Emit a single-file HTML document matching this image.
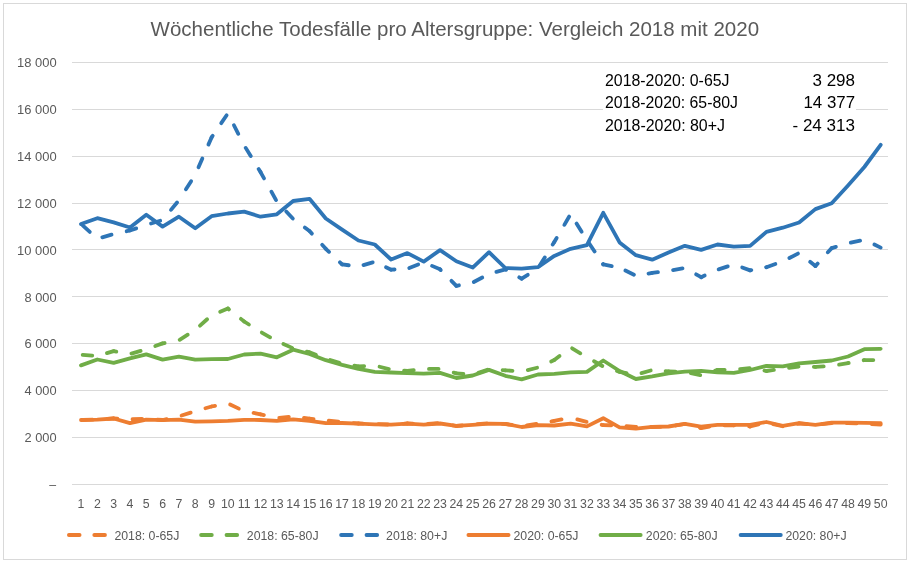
<!DOCTYPE html><html><head><meta charset="utf-8"><style>html,body{margin:0;padding:0;background:#fff;}svg{display:block;will-change:transform;}text{font-family:"Liberation Sans",sans-serif;}</style></head><body>
<svg width="909" height="562" viewBox="0 0 909 562">
<rect x="0" y="0" width="909" height="562" fill="#fff"/>
<rect x="3.5" y="3.5" width="903" height="556" fill="none" stroke="#D9D9D9" stroke-width="1"/>
<text x="454.8" y="35.9" text-anchor="middle" font-size="20" fill="#595959" textLength="608.5" lengthAdjust="spacingAndGlyphs">Wöchentliche Todesfälle pro Altersgruppe: Vergleich 2018 mit 2020</text>
<line x1="72" y1="484.5" x2="888" y2="484.5" stroke="#D9D9D9" stroke-width="1"/>
<line x1="72" y1="437.5" x2="888" y2="437.5" stroke="#D9D9D9" stroke-width="1"/>
<line x1="72" y1="390.5" x2="888" y2="390.5" stroke="#D9D9D9" stroke-width="1"/>
<line x1="72" y1="343.5" x2="888" y2="343.5" stroke="#D9D9D9" stroke-width="1"/>
<line x1="72" y1="296.5" x2="888" y2="296.5" stroke="#D9D9D9" stroke-width="1"/>
<line x1="72" y1="249.5" x2="888" y2="249.5" stroke="#D9D9D9" stroke-width="1"/>
<line x1="72" y1="203.5" x2="888" y2="203.5" stroke="#D9D9D9" stroke-width="1"/>
<line x1="72" y1="156.5" x2="888" y2="156.5" stroke="#D9D9D9" stroke-width="1"/>
<line x1="72" y1="109.5" x2="888" y2="109.5" stroke="#D9D9D9" stroke-width="1"/>
<line x1="72" y1="62.5" x2="888" y2="62.5" stroke="#D9D9D9" stroke-width="1"/>
<text x="56" y="489.1" text-anchor="end" font-size="12.3" fill="#595959">–</text>
<text x="24.5" y="442.2" font-size="12.3" fill="#595959" textLength="32.1" lengthAdjust="spacingAndGlyphs">2 000</text>
<text x="24.5" y="395.3" font-size="12.3" fill="#595959" textLength="32.1" lengthAdjust="spacingAndGlyphs">4 000</text>
<text x="24.5" y="348.4" font-size="12.3" fill="#595959" textLength="32.1" lengthAdjust="spacingAndGlyphs">6 000</text>
<text x="24.5" y="301.5" font-size="12.3" fill="#595959" textLength="32.1" lengthAdjust="spacingAndGlyphs">8 000</text>
<text x="17.0" y="254.7" font-size="12.3" fill="#595959" textLength="39.6" lengthAdjust="spacingAndGlyphs">10 000</text>
<text x="17.0" y="207.8" font-size="12.3" fill="#595959" textLength="39.6" lengthAdjust="spacingAndGlyphs">12 000</text>
<text x="17.0" y="160.9" font-size="12.3" fill="#595959" textLength="39.6" lengthAdjust="spacingAndGlyphs">14 000</text>
<text x="17.0" y="114.0" font-size="12.3" fill="#595959" textLength="39.6" lengthAdjust="spacingAndGlyphs">16 000</text>
<text x="17.0" y="67.1" font-size="12.3" fill="#595959" textLength="39.6" lengthAdjust="spacingAndGlyphs">18 000</text>
<text x="81.00" y="507.8" text-anchor="middle" font-size="12.3" fill="#595959">1</text>
<text x="97.32" y="507.8" text-anchor="middle" font-size="12.3" fill="#595959">2</text>
<text x="113.64" y="507.8" text-anchor="middle" font-size="12.3" fill="#595959">3</text>
<text x="129.96" y="507.8" text-anchor="middle" font-size="12.3" fill="#595959">4</text>
<text x="146.28" y="507.8" text-anchor="middle" font-size="12.3" fill="#595959">5</text>
<text x="162.60" y="507.8" text-anchor="middle" font-size="12.3" fill="#595959">6</text>
<text x="178.92" y="507.8" text-anchor="middle" font-size="12.3" fill="#595959">7</text>
<text x="195.24" y="507.8" text-anchor="middle" font-size="12.3" fill="#595959">8</text>
<text x="211.56" y="507.8" text-anchor="middle" font-size="12.3" fill="#595959">9</text>
<text x="227.88" y="507.8" text-anchor="middle" font-size="12.3" fill="#595959">10</text>
<text x="244.20" y="507.8" text-anchor="middle" font-size="12.3" fill="#595959">11</text>
<text x="260.52" y="507.8" text-anchor="middle" font-size="12.3" fill="#595959">12</text>
<text x="276.84" y="507.8" text-anchor="middle" font-size="12.3" fill="#595959">13</text>
<text x="293.16" y="507.8" text-anchor="middle" font-size="12.3" fill="#595959">14</text>
<text x="309.48" y="507.8" text-anchor="middle" font-size="12.3" fill="#595959">15</text>
<text x="325.80" y="507.8" text-anchor="middle" font-size="12.3" fill="#595959">16</text>
<text x="342.12" y="507.8" text-anchor="middle" font-size="12.3" fill="#595959">17</text>
<text x="358.44" y="507.8" text-anchor="middle" font-size="12.3" fill="#595959">18</text>
<text x="374.76" y="507.8" text-anchor="middle" font-size="12.3" fill="#595959">19</text>
<text x="391.08" y="507.8" text-anchor="middle" font-size="12.3" fill="#595959">20</text>
<text x="407.40" y="507.8" text-anchor="middle" font-size="12.3" fill="#595959">21</text>
<text x="423.72" y="507.8" text-anchor="middle" font-size="12.3" fill="#595959">22</text>
<text x="440.04" y="507.8" text-anchor="middle" font-size="12.3" fill="#595959">23</text>
<text x="456.36" y="507.8" text-anchor="middle" font-size="12.3" fill="#595959">24</text>
<text x="472.68" y="507.8" text-anchor="middle" font-size="12.3" fill="#595959">25</text>
<text x="489.00" y="507.8" text-anchor="middle" font-size="12.3" fill="#595959">26</text>
<text x="505.32" y="507.8" text-anchor="middle" font-size="12.3" fill="#595959">27</text>
<text x="521.64" y="507.8" text-anchor="middle" font-size="12.3" fill="#595959">28</text>
<text x="537.96" y="507.8" text-anchor="middle" font-size="12.3" fill="#595959">29</text>
<text x="554.28" y="507.8" text-anchor="middle" font-size="12.3" fill="#595959">30</text>
<text x="570.60" y="507.8" text-anchor="middle" font-size="12.3" fill="#595959">31</text>
<text x="586.92" y="507.8" text-anchor="middle" font-size="12.3" fill="#595959">32</text>
<text x="603.24" y="507.8" text-anchor="middle" font-size="12.3" fill="#595959">33</text>
<text x="619.56" y="507.8" text-anchor="middle" font-size="12.3" fill="#595959">34</text>
<text x="635.88" y="507.8" text-anchor="middle" font-size="12.3" fill="#595959">35</text>
<text x="652.20" y="507.8" text-anchor="middle" font-size="12.3" fill="#595959">36</text>
<text x="668.52" y="507.8" text-anchor="middle" font-size="12.3" fill="#595959">37</text>
<text x="684.84" y="507.8" text-anchor="middle" font-size="12.3" fill="#595959">38</text>
<text x="701.16" y="507.8" text-anchor="middle" font-size="12.3" fill="#595959">39</text>
<text x="717.48" y="507.8" text-anchor="middle" font-size="12.3" fill="#595959">40</text>
<text x="733.80" y="507.8" text-anchor="middle" font-size="12.3" fill="#595959">41</text>
<text x="750.12" y="507.8" text-anchor="middle" font-size="12.3" fill="#595959">42</text>
<text x="766.44" y="507.8" text-anchor="middle" font-size="12.3" fill="#595959">43</text>
<text x="782.76" y="507.8" text-anchor="middle" font-size="12.3" fill="#595959">44</text>
<text x="799.08" y="507.8" text-anchor="middle" font-size="12.3" fill="#595959">45</text>
<text x="815.40" y="507.8" text-anchor="middle" font-size="12.3" fill="#595959">46</text>
<text x="831.72" y="507.8" text-anchor="middle" font-size="12.3" fill="#595959">47</text>
<text x="848.04" y="507.8" text-anchor="middle" font-size="12.3" fill="#595959">48</text>
<text x="864.36" y="507.8" text-anchor="middle" font-size="12.3" fill="#595959">49</text>
<text x="880.68" y="507.8" text-anchor="middle" font-size="12.3" fill="#595959">50</text>
<g stroke="#ED7D31" stroke-width="3.8" stroke-linecap="round" stroke-dasharray="9.6 15.16"><line x1="81.00" y1="420.00" x2="97.32" y2="419.60" stroke-dashoffset="22.69"/><line x1="97.32" y1="419.60" x2="113.64" y2="418.50" stroke-dashoffset="14.26"/><line x1="113.64" y1="418.50" x2="129.96" y2="419.30" stroke-dashoffset="5.86"/><line x1="129.96" y1="419.30" x2="146.28" y2="418.90" stroke-dashoffset="22.20"/><line x1="146.28" y1="418.90" x2="162.60" y2="420.00" stroke-dashoffset="13.76"/><line x1="162.60" y1="420.00" x2="178.92" y2="416.40" stroke-dashoffset="5.36"/><line x1="178.92" y1="416.40" x2="195.24" y2="411.10" stroke-dashoffset="21.99"/><line x1="195.24" y1="411.10" x2="211.56" y2="406.50" stroke-dashoffset="14.18"/><line x1="211.56" y1="406.50" x2="227.88" y2="403.50" stroke-dashoffset="6.03"/><line x1="227.88" y1="403.50" x2="244.20" y2="411.10" stroke-dashoffset="22.27"/><line x1="244.20" y1="411.10" x2="260.52" y2="414.30" stroke-dashoffset="15.20"/><line x1="260.52" y1="414.30" x2="276.84" y2="418.20" stroke-dashoffset="6.14"/><line x1="276.84" y1="418.20" x2="293.16" y2="416.50" stroke-dashoffset="22.31"/><line x1="293.16" y1="416.50" x2="309.48" y2="418.70" stroke-dashoffset="13.87"/><line x1="309.48" y1="418.70" x2="325.80" y2="420.40" stroke-dashoffset="5.50"/><line x1="325.80" y1="420.40" x2="342.12" y2="422.00" stroke-dashoffset="21.82"/><line x1="342.12" y1="422.00" x2="358.44" y2="423.50" stroke-dashoffset="13.37"/><line x1="358.44" y1="423.50" x2="374.76" y2="424.00" stroke-dashoffset="4.91"/><line x1="374.76" y1="424.00" x2="391.08" y2="424.60" stroke-dashoffset="21.16"/><line x1="391.08" y1="424.60" x2="407.40" y2="423.50" stroke-dashoffset="12.64"/><line x1="407.40" y1="423.50" x2="423.72" y2="424.30" stroke-dashoffset="4.15"/><line x1="423.72" y1="424.30" x2="440.04" y2="423.00" stroke-dashoffset="20.41"/><line x1="440.04" y1="423.00" x2="456.36" y2="426.00" stroke-dashoffset="11.93"/><line x1="456.36" y1="426.00" x2="472.68" y2="424.60" stroke-dashoffset="3.68"/><line x1="472.68" y1="424.60" x2="489.00" y2="423.20" stroke-dashoffset="19.97"/><line x1="489.00" y1="423.20" x2="505.32" y2="424.00" stroke-dashoffset="11.51"/><line x1="505.32" y1="424.00" x2="521.64" y2="426.30" stroke-dashoffset="3.00"/><line x1="521.64" y1="426.30" x2="537.96" y2="423.70" stroke-dashoffset="19.40"/><line x1="537.96" y1="423.70" x2="554.28" y2="420.90" stroke-dashoffset="11.08"/><line x1="554.28" y1="420.90" x2="570.60" y2="417.60" stroke-dashoffset="2.18"/><line x1="570.60" y1="417.60" x2="586.92" y2="422.00" stroke-dashoffset="17.82"/><line x1="586.92" y1="422.00" x2="603.24" y2="425.10" stroke-dashoffset="9.78"/><line x1="603.24" y1="425.10" x2="619.56" y2="425.40" stroke-dashoffset="1.56"/><line x1="619.56" y1="425.40" x2="635.88" y2="427.00" stroke-dashoffset="17.88"/><line x1="635.88" y1="427.00" x2="652.20" y2="427.00" stroke-dashoffset="9.52"/><line x1="652.20" y1="427.00" x2="668.52" y2="426.70" stroke-dashoffset="1.08"/><line x1="668.52" y1="426.70" x2="684.84" y2="424.00" stroke-dashoffset="17.40"/><line x1="684.84" y1="424.00" x2="701.16" y2="428.10" stroke-dashoffset="9.18"/><line x1="701.16" y1="428.10" x2="717.48" y2="425.30" stroke-dashoffset="1.25"/><line x1="717.48" y1="425.30" x2="733.80" y2="425.30" stroke-dashoffset="17.81"/><line x1="733.80" y1="425.30" x2="750.12" y2="426.50" stroke-dashoffset="9.37"/><line x1="750.12" y1="426.50" x2="766.44" y2="422.50" stroke-dashoffset="0.97"/><line x1="766.44" y1="422.50" x2="782.76" y2="426.30" stroke-dashoffset="17.78"/><line x1="782.76" y1="426.30" x2="799.08" y2="423.50" stroke-dashoffset="9.77"/><line x1="799.08" y1="423.50" x2="815.40" y2="424.90" stroke-dashoffset="1.57"/><line x1="815.40" y1="424.90" x2="831.72" y2="423.20" stroke-dashoffset="17.95"/><line x1="831.72" y1="423.20" x2="848.04" y2="423.20" stroke-dashoffset="9.60"/><line x1="848.04" y1="423.20" x2="864.36" y2="423.50" stroke-dashoffset="1.16"/><line x1="864.36" y1="423.50" x2="880.68" y2="424.60" stroke-dashoffset="17.48"/></g>
<g stroke="#70AD47" stroke-width="3.8" stroke-linecap="round" stroke-dasharray="9.6 15.16"><line x1="81.00" y1="354.80" x2="97.32" y2="356.00" stroke-dashoffset="23.09"/><line x1="97.32" y1="356.00" x2="113.64" y2="351.10" stroke-dashoffset="14.70"/><line x1="113.64" y1="351.10" x2="129.96" y2="354.00" stroke-dashoffset="6.86"/><line x1="129.96" y1="354.00" x2="146.28" y2="349.30" stroke-dashoffset="23.25"/><line x1="146.28" y1="349.30" x2="162.60" y2="343.40" stroke-dashoffset="15.20"/><line x1="162.60" y1="343.40" x2="178.92" y2="340.30" stroke-dashoffset="7.52"/><line x1="178.92" y1="340.30" x2="195.24" y2="330.00" stroke-dashoffset="23.92"/><line x1="195.24" y1="330.00" x2="211.56" y2="315.20" stroke-dashoffset="18.32"/><line x1="211.56" y1="315.20" x2="227.88" y2="308.50" stroke-dashoffset="15.46"/><line x1="227.88" y1="308.50" x2="244.20" y2="321.50" stroke-dashoffset="8.12"/><line x1="244.20" y1="321.50" x2="260.52" y2="331.80" stroke-dashoffset="3.99"/><line x1="260.52" y1="331.80" x2="276.84" y2="341.20" stroke-dashoffset="23.28"/><line x1="276.84" y1="341.20" x2="293.16" y2="348.30" stroke-dashoffset="17.64"/><line x1="293.16" y1="348.30" x2="309.48" y2="352.30" stroke-dashoffset="10.68"/><line x1="309.48" y1="352.30" x2="325.80" y2="358.50" stroke-dashoffset="2.68"/><line x1="325.80" y1="358.50" x2="342.12" y2="363.80" stroke-dashoffset="20.09"/><line x1="342.12" y1="363.80" x2="358.44" y2="366.40" stroke-dashoffset="12.43"/><line x1="358.44" y1="366.40" x2="374.76" y2="365.50" stroke-dashoffset="3.87"/><line x1="374.76" y1="365.50" x2="391.08" y2="369.70" stroke-dashoffset="19.82"/><line x1="391.08" y1="369.70" x2="407.40" y2="370.90" stroke-dashoffset="11.72"/><line x1="407.40" y1="370.90" x2="423.72" y2="368.90" stroke-dashoffset="3.21"/><line x1="423.72" y1="368.90" x2="440.04" y2="368.90" stroke-dashoffset="19.51"/><line x1="440.04" y1="368.90" x2="456.36" y2="373.30" stroke-dashoffset="10.64"/><line x1="456.36" y1="373.30" x2="472.68" y2="374.80" stroke-dashoffset="2.55"/><line x1="472.68" y1="374.80" x2="489.00" y2="369.20" stroke-dashoffset="18.79"/><line x1="489.00" y1="369.20" x2="505.32" y2="370.30" stroke-dashoffset="11.13"/><line x1="505.32" y1="370.30" x2="521.64" y2="371.60" stroke-dashoffset="2.43"/><line x1="521.64" y1="371.60" x2="537.96" y2="367.50" stroke-dashoffset="18.43"/><line x1="537.96" y1="367.50" x2="554.28" y2="360.00" stroke-dashoffset="10.23"/><line x1="554.28" y1="360.00" x2="570.60" y2="347.40" stroke-dashoffset="2.97"/><line x1="570.60" y1="347.40" x2="586.92" y2="357.20" stroke-dashoffset="22.98"/><line x1="586.92" y1="357.20" x2="603.24" y2="366.50" stroke-dashoffset="16.60"/><line x1="603.24" y1="366.50" x2="619.56" y2="371.90" stroke-dashoffset="10.30"/><line x1="619.56" y1="371.90" x2="635.88" y2="374.70" stroke-dashoffset="2.49"/><line x1="635.88" y1="374.70" x2="652.20" y2="370.10" stroke-dashoffset="18.94"/><line x1="652.20" y1="370.10" x2="668.52" y2="371.40" stroke-dashoffset="11.32"/><line x1="668.52" y1="371.40" x2="684.84" y2="372.00" stroke-dashoffset="2.71"/><line x1="684.84" y1="372.00" x2="701.16" y2="375.30" stroke-dashoffset="18.66"/><line x1="701.16" y1="375.30" x2="717.48" y2="369.90" stroke-dashoffset="10.33"/><line x1="717.48" y1="369.90" x2="733.80" y2="369.70" stroke-dashoffset="2.43"/><line x1="733.80" y1="369.70" x2="750.12" y2="368.00" stroke-dashoffset="18.42"/><line x1="750.12" y1="368.00" x2="766.44" y2="371.00" stroke-dashoffset="10.20"/><line x1="766.44" y1="371.00" x2="782.76" y2="368.60" stroke-dashoffset="2.05"/><line x1="782.76" y1="368.60" x2="799.08" y2="366.50" stroke-dashoffset="18.47"/><line x1="799.08" y1="366.50" x2="815.40" y2="366.90" stroke-dashoffset="9.99"/><line x1="815.40" y1="366.90" x2="831.72" y2="365.80" stroke-dashoffset="1.29"/><line x1="831.72" y1="365.80" x2="848.04" y2="363.10" stroke-dashoffset="17.33"/><line x1="848.04" y1="363.10" x2="864.36" y2="360.10" stroke-dashoffset="8.90"/><line x1="864.36" y1="360.10" x2="880.68" y2="360.10" stroke-dashoffset="0.64"/></g>
<g stroke="#2E75B6" stroke-width="3.8" stroke-linecap="round" stroke-dasharray="9.6 15.16"><line x1="81.00" y1="223.90" x2="97.32" y2="238.70" stroke-dashoffset="22.50"/><line x1="97.32" y1="238.70" x2="113.64" y2="234.10" stroke-dashoffset="19.59"/><line x1="113.64" y1="234.10" x2="129.96" y2="230.50" stroke-dashoffset="11.42"/><line x1="129.96" y1="230.50" x2="146.28" y2="225.00" stroke-dashoffset="2.99"/><line x1="146.28" y1="225.00" x2="162.60" y2="220.00" stroke-dashoffset="19.81"/><line x1="162.60" y1="220.00" x2="178.92" y2="200.20" stroke-dashoffset="11.61"/><line x1="178.92" y1="200.20" x2="195.24" y2="174.80" stroke-dashoffset="11.78"/><line x1="195.24" y1="174.80" x2="211.56" y2="137.40" stroke-dashoffset="16.59"/><line x1="211.56" y1="137.40" x2="227.88" y2="113.40" stroke-dashoffset="7.56"/><line x1="227.88" y1="113.40" x2="244.20" y2="145.40" stroke-dashoffset="11.45"/><line x1="244.20" y1="145.40" x2="260.52" y2="172.10" stroke-dashoffset="21.85"/><line x1="260.52" y1="172.10" x2="276.84" y2="201.50" stroke-dashoffset="2.36"/><line x1="276.84" y1="201.50" x2="293.16" y2="218.90" stroke-dashoffset="11.02"/><line x1="293.16" y1="218.90" x2="309.48" y2="231.00" stroke-dashoffset="10.28"/><line x1="309.48" y1="231.00" x2="325.80" y2="248.80" stroke-dashoffset="6.02"/><line x1="325.80" y1="248.80" x2="342.12" y2="264.40" stroke-dashoffset="5.18"/><line x1="342.12" y1="264.40" x2="358.44" y2="266.50" stroke-dashoffset="2.90"/><line x1="358.44" y1="266.50" x2="374.76" y2="261.80" stroke-dashoffset="19.52"/><line x1="374.76" y1="261.80" x2="391.08" y2="269.70" stroke-dashoffset="12.27"/><line x1="391.08" y1="269.70" x2="407.40" y2="268.70" stroke-dashoffset="6.10"/><line x1="407.40" y1="268.70" x2="423.72" y2="262.30" stroke-dashoffset="22.77"/><line x1="423.72" y1="262.30" x2="440.04" y2="269.30" stroke-dashoffset="15.69"/><line x1="440.04" y1="269.30" x2="456.36" y2="285.80" stroke-dashoffset="8.56"/><line x1="456.36" y1="285.80" x2="472.68" y2="282.60" stroke-dashoffset="6.94"/><line x1="472.68" y1="282.60" x2="489.00" y2="274.00" stroke-dashoffset="23.50"/><line x1="489.00" y1="274.00" x2="505.32" y2="269.30" stroke-dashoffset="17.06"/><line x1="505.32" y1="269.30" x2="521.64" y2="278.70" stroke-dashoffset="8.68"/><line x1="521.64" y1="278.70" x2="537.96" y2="268.50" stroke-dashoffset="2.36"/><line x1="537.96" y1="268.50" x2="554.28" y2="242.00" stroke-dashoffset="21.37"/><line x1="554.28" y1="242.00" x2="570.60" y2="214.20" stroke-dashoffset="4.88"/><line x1="570.60" y1="214.20" x2="586.92" y2="240.00" stroke-dashoffset="13.68"/><line x1="586.92" y1="240.00" x2="603.24" y2="264.40" stroke-dashoffset="20.56"/><line x1="603.24" y1="264.40" x2="619.56" y2="267.60" stroke-dashoffset="0.93"/><line x1="619.56" y1="267.60" x2="635.88" y2="275.70" stroke-dashoffset="18.29"/><line x1="635.88" y1="275.70" x2="652.20" y2="272.90" stroke-dashoffset="11.96"/><line x1="652.20" y1="272.90" x2="668.52" y2="270.80" stroke-dashoffset="3.77"/><line x1="668.52" y1="270.80" x2="684.84" y2="268.00" stroke-dashoffset="20.15"/><line x1="684.84" y1="268.00" x2="701.16" y2="277.20" stroke-dashoffset="11.82"/><line x1="701.16" y1="277.20" x2="717.48" y2="269.70" stroke-dashoffset="5.70"/><line x1="717.48" y1="269.70" x2="733.80" y2="264.40" stroke-dashoffset="23.55"/><line x1="733.80" y1="264.40" x2="750.12" y2="270.40" stroke-dashoffset="15.80"/><line x1="750.12" y1="270.40" x2="766.44" y2="267.20" stroke-dashoffset="8.37"/><line x1="766.44" y1="267.20" x2="782.76" y2="261.50" stroke-dashoffset="0.14"/><line x1="782.76" y1="261.50" x2="799.08" y2="253.00" stroke-dashoffset="17.27"/><line x1="799.08" y1="253.00" x2="815.40" y2="266.10" stroke-dashoffset="10.62"/><line x1="815.40" y1="266.10" x2="831.72" y2="248.10" stroke-dashoffset="6.19"/><line x1="831.72" y1="248.10" x2="848.04" y2="243.30" stroke-dashoffset="5.27"/><line x1="848.04" y1="243.30" x2="864.36" y2="239.60" stroke-dashoffset="21.96"/><line x1="864.36" y1="239.60" x2="880.68" y2="247.60" stroke-dashoffset="13.63"/></g>
<polyline points="81.00,420.00 97.32,419.60 113.64,418.50 129.96,423.10 146.28,419.60 162.60,420.10 178.92,419.60 195.24,421.70 211.56,421.30 227.88,420.80 244.20,419.90 260.52,420.00 276.84,420.90 293.16,419.30 309.48,420.90 325.80,423.10 342.12,423.00 358.44,423.70 374.76,424.30 391.08,424.60 407.40,423.70 423.72,424.60 440.04,423.50 456.36,425.90 472.68,424.80 489.00,423.70 505.32,423.90 521.64,427.00 537.96,425.10 554.28,425.50 570.60,423.70 586.92,426.40 603.24,418.20 619.56,427.40 635.88,428.70 652.20,426.80 668.52,426.50 684.84,423.90 701.16,426.60 717.48,424.80 733.80,424.80 750.12,424.80 766.44,422.00 782.76,425.90 799.08,423.20 815.40,424.80 831.72,422.60 848.04,422.60 864.36,422.80 880.68,423.20" fill="none" stroke="#ED7D31" stroke-width="3.8" stroke-linejoin="round" stroke-linecap="round"/>
<polyline points="81.00,365.40 97.32,359.50 113.64,362.90 129.96,358.30 146.28,354.40 162.60,359.60 178.92,356.60 195.24,359.60 211.56,359.10 227.88,359.00 244.20,354.50 260.52,353.60 276.84,357.30 293.16,349.70 309.48,354.00 325.80,360.20 342.12,364.80 358.44,368.80 374.76,371.90 391.08,372.50 407.40,373.10 423.72,373.70 440.04,372.90 456.36,378.00 472.68,375.50 489.00,369.90 505.32,375.80 521.64,379.40 537.96,374.50 554.28,373.80 570.60,372.40 586.92,371.90 603.24,360.50 619.56,371.00 635.88,379.00 652.20,376.40 668.52,373.30 684.84,371.60 701.16,370.80 717.48,372.30 733.80,372.80 750.12,370.00 766.44,365.90 782.76,366.40 799.08,363.40 815.40,362.00 831.72,360.50 848.04,356.50 864.36,349.20 880.68,348.80" fill="none" stroke="#70AD47" stroke-width="3.8" stroke-linejoin="round" stroke-linecap="round"/>
<polyline points="81.00,224.00 97.32,218.20 113.64,222.40 129.96,227.50 146.28,214.80 162.60,226.60 178.92,216.70 195.24,228.20 211.56,216.20 227.88,213.50 244.20,211.60 260.52,216.70 276.84,214.30 293.16,201.00 309.48,198.80 325.80,218.50 342.12,229.60 358.44,240.50 374.76,244.50 391.08,259.50 407.40,253.10 423.72,261.60 440.04,250.10 456.36,261.30 472.68,267.60 489.00,252.20 505.32,268.00 521.64,268.70 537.96,267.20 554.28,255.90 570.60,248.80 586.92,245.20 603.24,212.80 619.56,242.40 635.88,255.20 652.20,259.70 668.52,252.60 684.84,245.80 701.16,249.90 717.48,244.50 733.80,246.70 750.12,245.90 766.44,231.90 782.76,227.70 799.08,222.50 815.40,209.10 831.72,203.20 848.04,185.50 864.36,167.00 880.68,144.80" fill="none" stroke="#2E75B6" stroke-width="3.8" stroke-linejoin="round" stroke-linecap="round"/>
<line x1="68.90" y1="535" x2="79.60" y2="535" stroke="#ED7D31" stroke-width="3.8" stroke-linecap="round"/>
<line x1="94.30" y1="535" x2="105.00" y2="535" stroke="#ED7D31" stroke-width="3.8" stroke-linecap="round"/>
<text x="114.4" y="539.5" font-size="12.3" fill="#595959">2018: 0-65J</text>
<line x1="201.10" y1="535" x2="211.80" y2="535" stroke="#70AD47" stroke-width="3.8" stroke-linecap="round"/>
<line x1="226.50" y1="535" x2="237.20" y2="535" stroke="#70AD47" stroke-width="3.8" stroke-linecap="round"/>
<text x="246.8" y="539.5" font-size="12.3" fill="#595959">2018: 65-80J</text>
<line x1="341.10" y1="535" x2="351.80" y2="535" stroke="#2E75B6" stroke-width="3.8" stroke-linecap="round"/>
<line x1="366.50" y1="535" x2="377.20" y2="535" stroke="#2E75B6" stroke-width="3.8" stroke-linecap="round"/>
<text x="386.1" y="539.5" font-size="12.3" fill="#595959">2018: 80+J</text>
<line x1="468.40" y1="535" x2="508.60" y2="535" stroke="#ED7D31" stroke-width="3.8" stroke-linecap="round"/>
<text x="513.5" y="539.5" font-size="12.3" fill="#595959">2020: 0-65J</text>
<line x1="600.50" y1="535" x2="640.70" y2="535" stroke="#70AD47" stroke-width="3.8" stroke-linecap="round"/>
<text x="645.8" y="539.5" font-size="12.3" fill="#595959">2020: 65-80J</text>
<line x1="740.60" y1="535" x2="780.80" y2="535" stroke="#2E75B6" stroke-width="3.8" stroke-linecap="round"/>
<text x="785.4" y="539.5" font-size="12.3" fill="#595959">2020: 80+J</text>
<rect x="603" y="68" width="253" height="66" fill="#fff"/>
<text x="605" y="85.80" font-size="15.6" fill="#000" textLength="124.5" lengthAdjust="spacingAndGlyphs">2018-2020: 0-65J</text>
<text x="812.5" y="85.80" font-size="15.6" fill="#000" textLength="42.5" lengthAdjust="spacingAndGlyphs">3 298</text>
<text x="605" y="108.15" font-size="15.6" fill="#000" textLength="133" lengthAdjust="spacingAndGlyphs">2018-2020: 65-80J</text>
<text x="803.5" y="108.15" font-size="15.6" fill="#000" textLength="51.5" lengthAdjust="spacingAndGlyphs">14 377</text>
<text x="605" y="130.50" font-size="15.6" fill="#000" textLength="120" lengthAdjust="spacingAndGlyphs">2018-2020: 80+J</text>
<text x="792.5" y="130.50" font-size="15.6" fill="#000" textLength="62.5" lengthAdjust="spacingAndGlyphs">- 24 313</text>
</svg></body></html>
